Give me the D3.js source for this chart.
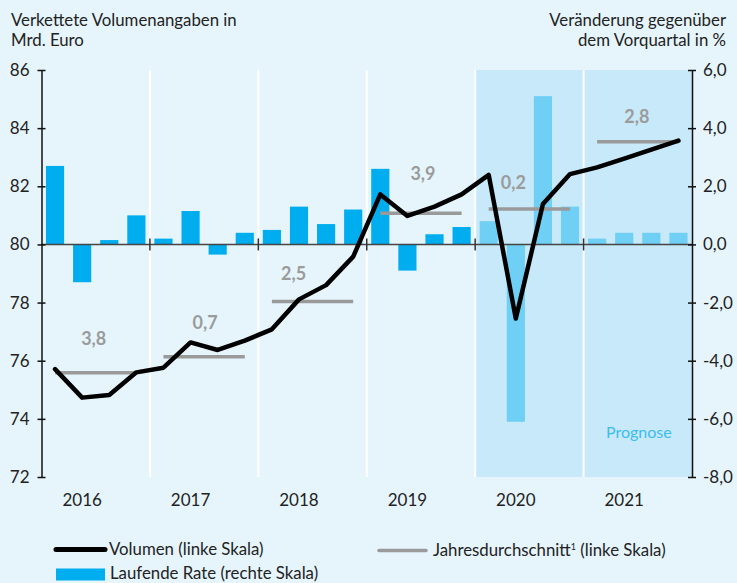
<!DOCTYPE html>
<html>
<head>
<meta charset="utf-8">
<script src="https://cdn.jsdelivr.net/npm/d3@7"></script>
<style>
  html, body { margin: 0; padding: 0; background: #e6f5fc; }
  svg { display: block; }
  text { font-family: Lato, "Open Sans", sans-serif; }
</style>
</head>
<body>
<svg id="chart" width="737" height="583"></svg>
<script>
// ---------- DATA ----------
const years = ["2016", "2017", "2018", "2019", "2020", "2021"];
const quarters = years.flatMap(y => ["Q1", "Q2", "Q3", "Q4"].map(q => y + q));
const volumen = [75.71, 74.73, 74.82, 75.60, 75.76, 76.63, 76.37, 76.69,
                 77.08, 78.11, 78.60, 79.58, 81.72, 80.98, 81.30, 81.72,
                 82.39, 77.45, 81.39, 82.42, 82.65, 82.95, 83.26, 83.57];
const rate = [2.7, -1.3, 0.15, 1.0, 0.2, 1.15, -0.35, 0.4,
              0.5, 1.3, 0.7, 1.2, 2.6, -0.9, 0.35, 0.6,
              0.8, -6.1, 5.1, 1.3, 0.2, 0.4, 0.4, 0.4];
const jahresDurchschnitt = [75.59, 76.14, 78.04, 81.07, 81.22, 83.53];
const jahresLabels = ["3,8", "0,7", "2,5", "3,9", "0,2", "2,8"];
const leftTicks = [72, 74, 76, 78, 80, 82, 84, 86];
const rightTicks = [-8, -6, -4, -2, 0, 2, 4, 6];
const prognoseYears = ["2020", "2021"];

// label placement offsets (styling)
const labelDx = [-2, 1, -19, 2, -16, -1];
const labelDy = [-28, -28, -21, -33, -20, -19];

// ---------- LAYOUT ----------
const svg = d3.select("#chart");
const L = 41.5, R = 692, T = 70, B = 477;

const x = d3.scaleBand().domain(quarters).range([L, R]).paddingInner(0.33).paddingOuter(0.165);
const xYear = d3.scaleBand().domain(years).range([L, R]);
const yL = d3.scaleLinear().domain([72, 86]).range([B, T]);
const yR = d3.scaleLinear().domain([-8, 6]).range([B, T]);
const cx = q => x(q) + x.bandwidth() / 2;
const fmt = v => d3.format(".1f")(v).replace(".", ",").replace("−", "-");

// background
svg.append("rect").attr("width", 737).attr("height", 583).attr("fill", "#e6f5fc");

// forecast shading
svg.selectAll("rect.shade").data(prognoseYears).join("rect")
  .attr("x", d => xYear(d)).attr("y", T)
  .attr("width", xYear.bandwidth()).attr("height", B - T)
  .attr("fill", "#c7e9f9");

// white year dividers
svg.selectAll("line.div").data(years.slice(1)).join("line")
  .attr("x1", d => xYear(d)).attr("x2", d => xYear(d))
  .attr("y1", T).attr("y2", B)
  .attr("stroke", "#ffffff").attr("stroke-width", 2);

// bars
svg.selectAll("rect.bar").data(quarters).join("rect")
  .attr("x", d => x(d))
  .attr("width", x.bandwidth())
  .attr("y", (d, i) => yR(Math.max(0, rate[i])))
  .attr("height", (d, i) => Math.abs(yR(rate[i]) - yR(0)))
  .attr("fill", d => prognoseYears.includes(d.slice(0, 4)) ? "#6fcff5" : "#00adee");

// zero line
svg.append("line").attr("x1", L).attr("x2", R).attr("y1", yR(0)).attr("y2", yR(0))
  .attr("stroke", "#454545").attr("stroke-width", 1.5);
svg.selectAll("line.ztick").data(years.slice(1)).join("line")
  .attr("x1", d => xYear(d)).attr("x2", d => xYear(d))
  .attr("y1", yR(0) - 6).attr("y2", yR(0) + 6)
  .attr("stroke", "#333").attr("stroke-width", 1.5);

// annual averages
years.forEach((yr, i) => {
  const q1 = yr + "Q1", q4 = yr + "Q4";
  svg.append("line")
    .attr("x1", cx(q1)).attr("x2", cx(q4))
    .attr("y1", yL(jahresDurchschnitt[i])).attr("y2", yL(jahresDurchschnitt[i]))
    .attr("stroke", "#9a9a9a").attr("stroke-width", 3.5);
  svg.append("text")
    .attr("x", (cx(q1) + cx(q4)) / 2 + labelDx[i])
    .attr("y", yL(jahresDurchschnitt[i]) + labelDy[i])
    .attr("text-anchor", "middle")
    .attr("font-size", 18).attr("font-weight", "bold")
    .attr("fill", "#9b9b9b")
    .text(jahresLabels[i]);
});

// volume line
svg.append("path")
  .datum(quarters)
  .attr("d", d3.line().x(d => cx(d)).y((d, i) => yL(volumen[i])))
  .attr("fill", "none").attr("stroke", "#000").attr("stroke-width", 4.5)
  .attr("stroke-linejoin", "round").attr("stroke-linecap", "round");

// axes
const leftAxis = d3.axisLeft(yL).tickValues(leftTicks).tickSize(0).tickPadding(12);
const gL = svg.append("g").attr("transform", `translate(${L},0)`).call(leftAxis);
gL.select(".domain").attr("stroke", "#111").attr("stroke-width", 1.5);
gL.selectAll(".tick text").attr("font-size", 17).attr("fill", "#222").attr("font-family", "Lato, sans-serif");
gL.selectAll(".tick").append("line").attr("x1", -4).attr("x2", 4).attr("stroke", "#111").attr("stroke-width", 1.5);

const rightAxis = d3.axisRight(yR).tickValues(rightTicks).tickSize(0).tickPadding(11).tickFormat(fmt);
const gR = svg.append("g").attr("transform", `translate(${R},0)`).call(rightAxis);
gR.select(".domain").attr("stroke", "#111").attr("stroke-width", 1.5);
gR.selectAll(".tick text").attr("font-size", 17).attr("fill", "#222").attr("font-family", "Lato, sans-serif");
gR.selectAll(".tick").append("line").attr("x1", -4).attr("x2", 4).attr("stroke", "#111").attr("stroke-width", 1.5);

// year labels (centered on 2nd quarter)
svg.selectAll("text.year").data(years).join("text")
  .attr("x", d => cx(d + "Q2"))
  .attr("y", 506)
  .attr("text-anchor", "middle")
  .attr("font-size", 17).attr("fill", "#222")
  .text(d => d);

// Prognose
svg.append("text").attr("x", xYear("2021") + xYear.bandwidth() / 2 + 1).attr("y", 438)
  .attr("text-anchor", "middle").attr("font-size", 16).attr("fill", "#3cbdf0")
  .text("Prognose");

// titles
const tl = svg.append("text").attr("x", 11).attr("font-size", 16.8).attr("fill", "#222");
tl.append("tspan").attr("x", 11).attr("y", 26).text("Verkettete Volumenangaben in");
tl.append("tspan").attr("x", 11).attr("y", 46).text("Mrd. Euro");
const tr = svg.append("text").attr("text-anchor", "end").attr("font-size", 16.8).attr("fill", "#222");
tr.append("tspan").attr("x", 726).attr("y", 26).text("Veränderung gegenüber");
tr.append("tspan").attr("x", 726).attr("y", 46).text("dem Vorquartal in %");

// legend
const lg = svg.append("g");
lg.append("line").attr("x1", 56).attr("x2", 105).attr("y1", 549.5).attr("y2", 549.5)
  .attr("stroke", "#000").attr("stroke-width", 5).attr("stroke-linecap", "round");
lg.append("text").attr("x", 109).attr("y", 555).attr("font-size", 16.8).attr("fill", "#222").text("Volumen (linke Skala)");
lg.append("line").attr("x1", 379).attr("x2", 426).attr("y1", 550.5).attr("y2", 550.5)
  .attr("stroke", "#9a9a9a").attr("stroke-width", 3.5).attr("stroke-linecap", "round");
const jt = lg.append("text").attr("x", 433).attr("y", 556).attr("font-size", 16.8).attr("fill", "#222");
jt.append("tspan").text("Jahresdurchschnitt");
jt.append("tspan").attr("font-size", 9).attr("dy", -6).text("1");
jt.append("tspan").attr("dy", 6).text(" (linke Skala)");
lg.append("rect").attr("x", 56).attr("y", 568.5).attr("width", 49).attr("height", 12).attr("fill", "#00adee");
lg.append("text").attr("x", 110).attr("y", 579).attr("font-size", 16.8).attr("fill", "#222").text("Laufende Rate (rechte Skala)");
</script>
</body>
</html>
